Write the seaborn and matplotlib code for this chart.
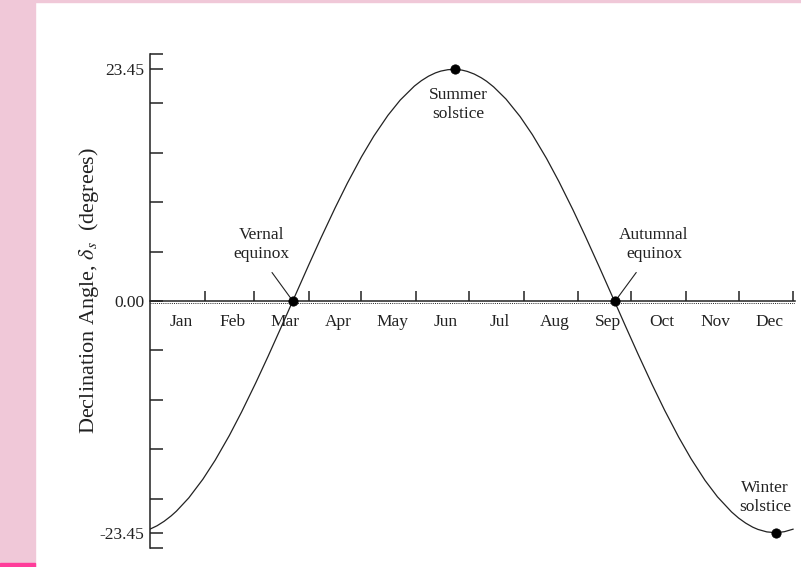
import numpy as np
import pandas as pd
import seaborn as sns
import matplotlib.pyplot as plt
from matplotlib.patches import Rectangle

# declination (day of year, degrees)
days = [0, 4, 8, 12, 15, 22, 30, 37, 45, 52, 60, 67, 75, 81, 90, 97, 105, 112,
        120, 127, 135, 142, 150, 154, 158, 162, 165, 169, 173, 177, 180, 184,
        188, 191, 195, 202, 210, 217, 225, 232, 240, 247, 255, 264, 270, 277,
        285, 292, 300, 307, 315, 322, 330, 334, 338, 342, 345, 350, 355, 360, 365]
decl = [-23.09, -22.75, -22.30, -21.75, -21.27, -19.93, -18.04, -16.11, -13.62,
        -11.22, -8.29, -5.60, -2.42, 0.0, 3.62, 6.38, 9.41, 11.93,
        14.59, 16.69, 18.79, 20.34, 21.75, 22.30, 22.75, 23.09, 23.27, 23.41,
        23.45, 23.37, 23.24, 22.97, 22.59, 22.24, 21.67, 20.44, 18.67, 16.83,
        14.43, 12.10, 9.23, 6.57, 3.42, -0.20, -2.62, -5.40, -8.48, -11.05,
        -13.78, -15.96, -18.17, -19.82, -21.35, -21.97, -22.48, -22.89, -23.12,
        -23.37, -23.45, -23.35, -23.09]

months = ["Jan", "Feb", "Mar", "Apr", "May", "Jun",
          "Jul", "Aug", "Sep", "Oct", "Nov", "Dec"]
month_len = [31, 28, 31, 30, 31, 30, 31, 31, 30, 31, 30, 31]

event_names = ["Vernal\nequinox", "Summer\nsolstice", "Autumnal\nequinox", "Winter\nsolstice"]
event_day = [81, 173, 264, 355]
event_decl = [0.0, 23.45, 0.0, -23.45]

sns.set_style("ticks")
plt.rcParams["font.family"] = ["Liberation Serif", "DejaVu Serif"]
plt.rcParams["mathtext.fontset"] = "stix"
ink = "#222222"

fig = plt.figure(figsize=(8.01, 5.67), dpi=100)
ax = fig.add_axes([150 / 801, 19 / 567, 645 / 801, 494 / 567])

df = pd.DataFrame({"day": days, "decl": decl})
sns.lineplot(data=df, x="day", y="decl", ax=ax, color=ink, lw=0.9)
ev = pd.DataFrame({"day": event_day, "decl": event_decl})
sns.scatterplot(data=ev, x="day", y="decl", ax=ax, color="black", s=45,
                edgecolor="black", zorder=5)

ax.set_xlim(0, 366)
ax.set_ylim(-25, 25)

for s in ["top", "right"]:
    ax.spines[s].set_visible(False)
ax.spines["bottom"].set_position(("data", 0))
for s in ["left", "bottom"]:
    ax.spines[s].set_linewidth(1.1)
    ax.spines[s].set_color(ink)
ax.axhline(-0.22, color=ink, lw=0.7, ls=(0, (1, 1.2)))

# y ticks
ax.set_yticks([-23.45, 0, 23.45])
ax.set_yticklabels(["-23.45", "0.00", "23.45"])
ax.set_yticks([-25, -20, -15, -10, -5, 5, 10, 15, 20, 25], minor=True)
ax.tick_params(axis="y", which="both", direction="in", length=9, width=1.1,
               color=ink, labelsize=12.5, labelcolor=ink, pad=4)

# x ticks: month boundaries, month labels in between
ends = np.cumsum(month_len)
starts = ends - np.array(month_len)
ax.set_xticks(ends)
ax.set_xticklabels([])
ax.set_xticks(starts + np.array(month_len) / 2 + 2, minor=True)
ax.set_xticklabels(months, minor=True)
ax.tick_params(axis="x", which="major", direction="in", length=7.5, width=1.1, color=ink)
ax.tick_params(axis="x", which="minor", length=0, labelsize=12.5, labelcolor=ink, pad=9)

ax.set_xlabel("")
ax.set_ylabel("Declination Angle, $\\delta_s$  (degrees)", fontsize=16, color=ink)
ax.yaxis.set_label_coords(-0.076, 0.522)

arrow = dict(arrowstyle="-", lw=0.8, color=ink, shrinkB=2)
txt = dict(ha="center", va="center", fontsize=12.5, color=ink, linespacing=1.3)
ax.annotate(event_names[0], xy=(event_day[0], event_decl[0]), xytext=(63.5, 5.7),
            arrowprops=dict(arrow, shrinkA=6, relpos=(0.55, 0)), **txt)
ax.annotate(event_names[1], xy=(event_day[1], event_decl[1]), xytext=(175, 19.9), **txt)
ax.annotate(event_names[2], xy=(event_day[2], event_decl[2]), xytext=(286, 5.7),
            arrowprops=dict(arrow, shrinkA=6, relpos=(0.35, 0)), **txt)
ax.annotate(event_names[3], xy=(event_day[3], event_decl[3]), xytext=(349, -19.9), **txt)

# page decoration
fig.patches.append(Rectangle((0, 0), 35 / 801, 1, transform=fig.transFigure,
                             color="#f0c8d8", zorder=-1))
fig.patches.append(Rectangle((0, 1 - 2 / 567), 1, 2 / 567, transform=fig.transFigure,
                             color="#f0c8d8", zorder=-1))
fig.patches.append(Rectangle((0, 0), 35 / 801, 4 / 567, transform=fig.transFigure,
                             color="#ff3d9a", zorder=0))

fig.savefig("out.png", dpi=100)
